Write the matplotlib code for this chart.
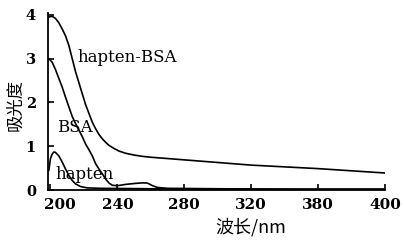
import matplotlib
matplotlib.use('Agg')
import matplotlib.pyplot as plt
from matplotlib.transforms import ScaledTranslation

# Wavelength (nm) and absorbance.
conj_wl = [199, 201, 203, 205, 207, 209, 211, 213, 215, 217, 219, 221, 223, 225, 227,
           229, 231, 233, 235, 238, 241, 245, 250, 255, 260, 270, 280, 300, 320, 340,
           360, 380, 400]
conj_abs = [3.95, 3.97, 3.92, 3.82, 3.68, 3.52, 3.30, 3.00, 2.70, 2.45, 2.20, 1.95, 1.75,
            1.55, 1.40, 1.27, 1.17, 1.09, 1.02, 0.95, 0.89, 0.84, 0.80, 0.77, 0.75, 0.72,
            0.69, 0.63, 0.57, 0.53, 0.49, 0.44, 0.39]

bsa_wl = [199, 201, 203, 205, 207, 209, 211, 213, 215, 217, 219, 221, 223, 225, 227, 229,
          231, 233, 235, 237, 240, 245, 250, 255, 258, 261, 264, 270, 300, 350, 400]
bsa_abs = [3.00, 2.92, 2.75, 2.55, 2.35, 2.12, 1.90, 1.68, 1.52, 1.37, 1.22, 1.05, 0.92,
           0.78, 0.60, 0.48, 0.37, 0.25, 0.16, 0.11, 0.10, 0.13, 0.15, 0.165, 0.16, 0.10,
           0.06, 0.04, 0.03, 0.02, 0.02]

hapten_wl = [199, 200, 201, 202, 203, 205, 207, 209, 211, 213, 215, 218, 222, 230, 260,
             300, 400]
hapten_abs = [0.45, 0.72, 0.82, 0.87, 0.86, 0.78, 0.64, 0.48, 0.33, 0.22, 0.14, 0.08, 0.05,
              0.04, 0.03, 0.02, 0.02]

# Tick positions and the labels as printed in the figure.
x_ticks = [200, 240, 280, 320, 360, 400]
x_tick_labels = ['200', '240', '280', '320', '380', '400']
y_ticks = [0, 1, 2, 3, 4]

serif = ['DejaVu Serif', 'Noto Sans CJK SC']
cjk = ['Noto Sans CJK SC', 'DejaVu Serif']


def main():
    fig = plt.figure(figsize=(4.04, 2.4), dpi=100)
    ax = fig.add_axes([0.120, 0.208, 0.833, 0.739])

    # Three spectra, all plain black lines.
    for wl, ab in [(conj_wl, conj_abs), (bsa_wl, bsa_abs), (hapten_wl, hapten_abs)]:
        ax.plot(wl, ab, color='black', lw=1.2)

    # Curve labels placed next to each spectrum.
    ax.text(216, 3.02, 'hapten-BSA', family=serif, fontsize=12, va='center')
    ax.text(204.2, 1.42, 'BSA', family=serif, fontsize=12, va='center')
    ax.text(203, 0.36, 'hapten', family=serif, fontsize=12, va='center')

    ax.set_xlim(198.8, 400)
    ax.set_ylim(0, 4.05)

    # Only left and bottom spines, ticks pointing inward.
    for side in ['top', 'right']:
        ax.spines[side].set_visible(False)
    for side in ['left', 'bottom']:
        ax.spines[side].set_linewidth(1.3)

    ax.set_xticks(x_ticks)
    ax.set_xticklabels(x_tick_labels, family=serif, fontsize=11, fontweight='bold')
    ax.set_yticks(y_ticks)
    ax.set_yticklabels([str(v) for v in y_ticks], family=serif, fontsize=10.5,
                       fontweight='bold')
    ax.tick_params(axis='x', direction='in', length=4, width=1.2, pad=6)
    ax.tick_params(axis='y', direction='in', length=4, width=1.2, pad=9)

    # The "200" label sits a little right of its tick in the original.
    lbl = ax.get_xticklabels()[0]
    lbl.set_transform(lbl.get_transform() + ScaledTranslation(7 / 72, 0, fig.dpi_scale_trans))

    ax.set_xlabel('波长/nm', family=cjk, fontsize=13)
    ax.xaxis.set_label_coords(0.60, -0.155)
    ax.set_ylabel('吸光度', family=cjk, fontsize=12.5)
    ax.yaxis.set_label_coords(-0.073, 0.48)

    fig.savefig('out.png', dpi=100)


if __name__ == "__main__":
    main()
